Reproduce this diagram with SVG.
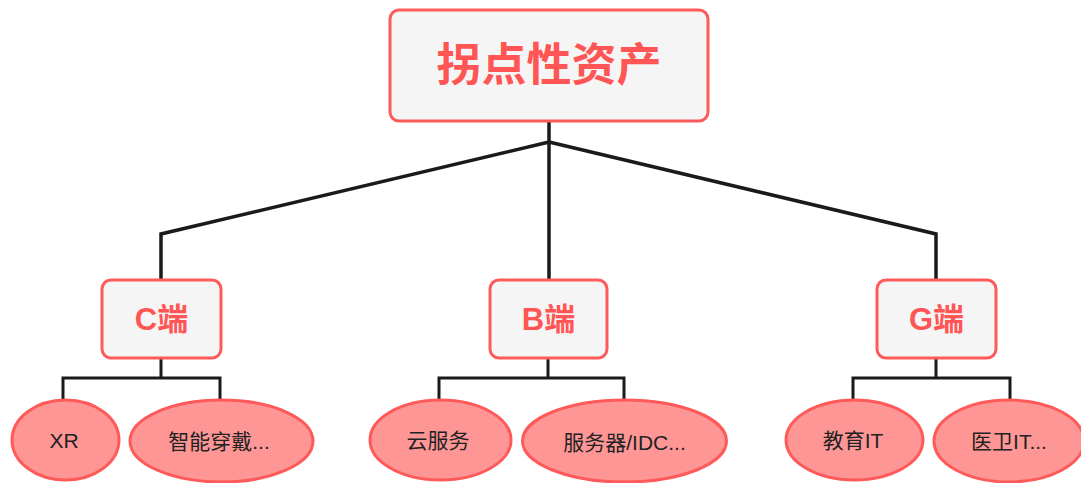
<svg xmlns="http://www.w3.org/2000/svg" width="1081" height="483" viewBox="0 0 1081 483">
<style>
.box{fill:#F5F5F5;stroke:#FF5A5A;stroke-width:3}
.ell{fill:#FF9696;stroke:#FF5A5A;stroke-width:3}
.t1{font-family:"Liberation Sans","Noto Sans CJK SC",sans-serif;font-weight:bold;fill:#FF5555;text-anchor:middle;dominant-baseline:central}
.t2{font-family:"Liberation Sans","Noto Sans CJK SC",sans-serif;font-size:21px;fill:#222;text-anchor:middle;dominant-baseline:central}
.c{fill:none;stroke:#1A1A1A;stroke-width:3.5;stroke-linejoin:miter}
.c2{fill:none;stroke:#1A1A1A;stroke-width:3}
</style>
<rect width="1081" height="483" fill="#FFFFFF"/>
<g id="connectors">
<path class="c" d="M549,121 V142 L161,234 V280"/>
<path class="c" d="M549,142 V280"/>
<path class="c" d="M549,142 L936,234 V280"/>
<path class="c2" d="M161,358 V378 M63,400 V378 H220 V400"/>
<path class="c2" d="M548,358 V378 M439,400 V378 H624 V400"/>
<path class="c2" d="M936,358 V378 M853,400 V378 H1010 V400"/>
</g>
<g id="root">
<rect class="box" x="390" y="10" width="318" height="111" rx="9"/>
<text class="t1" x="549" y="65" font-size="45">拐点性资产</text>
</g>
<g id="c">
<rect class="box" x="102" y="280" width="119" height="78" rx="9"/>
<text class="t1" x="161.5" y="319" font-size="31">C端</text>
</g>
<g id="b">
<rect class="box" x="490" y="280" width="117" height="78" rx="9"/>
<text class="t1" x="548.5" y="319" font-size="31">B端</text>
</g>
<g id="g">
<rect class="box" x="877" y="280" width="119" height="78" rx="9"/>
<text class="t1" x="936.5" y="319" font-size="31">G端</text>
</g>
<g id="xr">
<ellipse class="ell" cx="65.5" cy="440" rx="53.5" ry="40"/>
<text class="t2" x="64" y="440">XR</text>
</g>
<g id="wear">
<ellipse class="ell" cx="221.5" cy="441" rx="91.5" ry="41"/>
<text class="t2" x="219" y="441">智能穿戴...</text>
</g>
<g id="cloud">
<ellipse class="ell" cx="440.5" cy="440" rx="70.5" ry="40"/>
<text class="t2" x="438" y="440">云服务</text>
</g>
<g id="server">
<ellipse class="ell" cx="624.5" cy="441" rx="102" ry="41"/>
<text class="t2" x="624.5" y="442">服务器/IDC...</text>
</g>
<g id="edu">
<ellipse class="ell" cx="854.5" cy="440" rx="68.5" ry="40"/>
<text class="t2" x="853" y="440">教育IT</text>
</g>
<g id="med">
<ellipse class="ell" cx="1009" cy="441" rx="75" ry="41"/>
<text class="t2" x="1009" y="441">医卫IT...</text>
</g>
</svg>
